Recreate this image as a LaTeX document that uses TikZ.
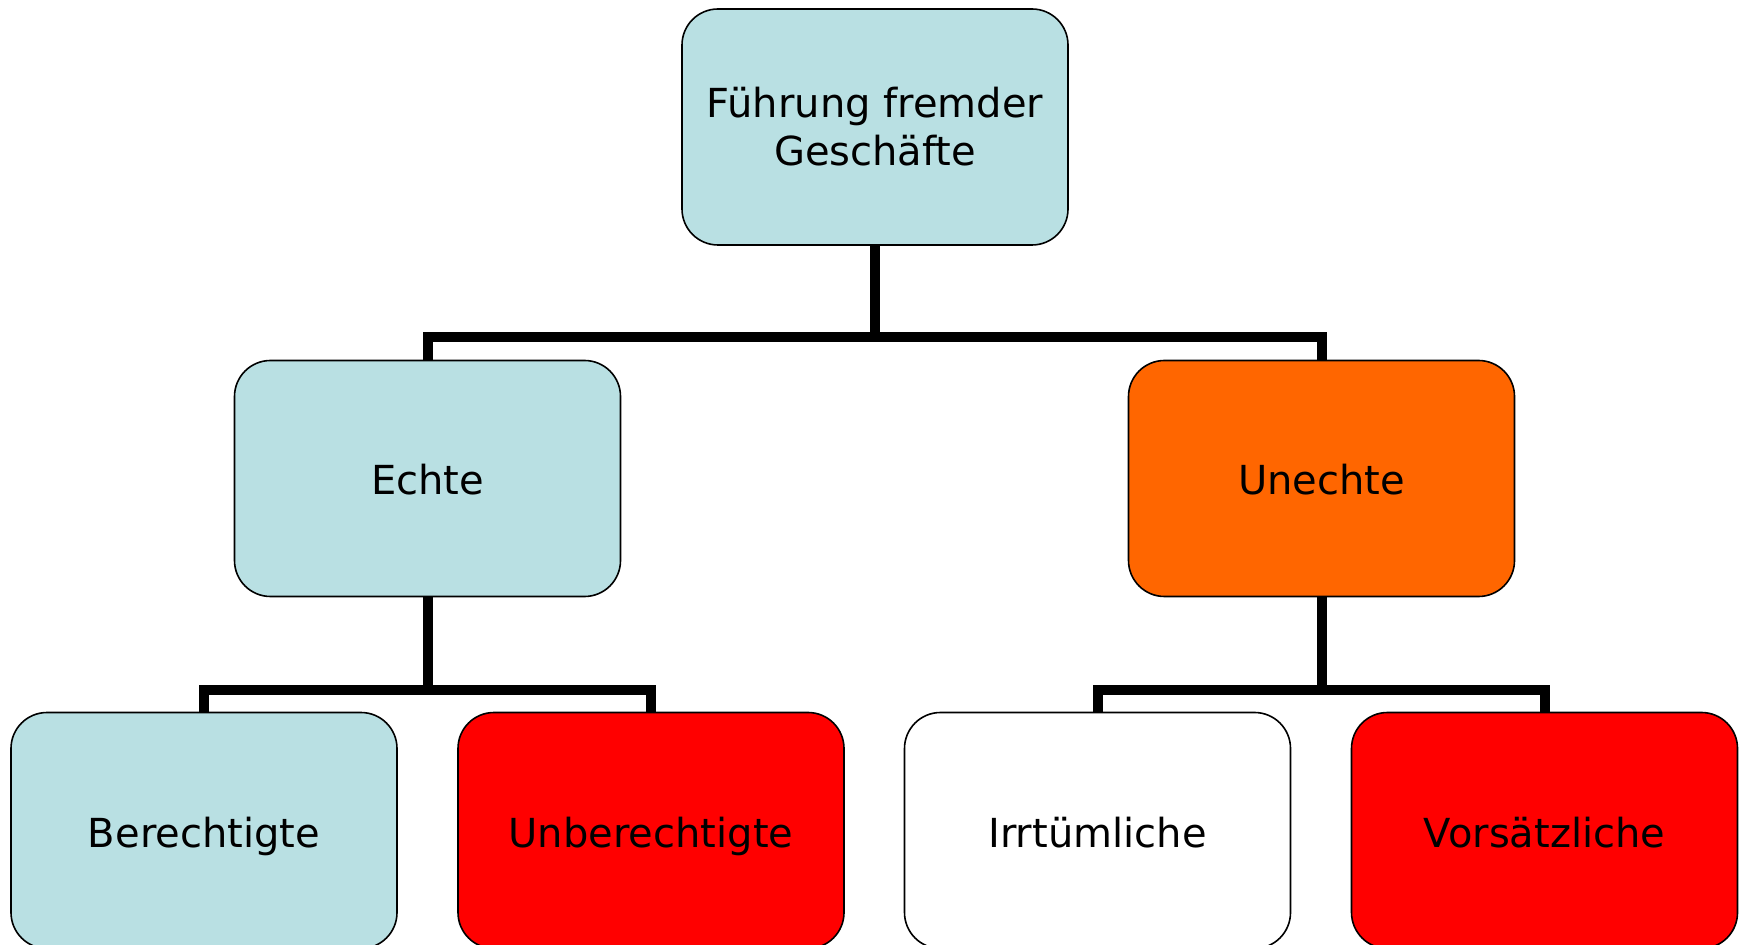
\documentclass[tikz,border=0pt]{standalone}
\usepackage{fontspec}
\setmainfont{DejaVu Sans}
\usepackage{tikz}
\usetikzlibrary{positioning}
\definecolor{lightcyan}{RGB}{185,224,227}
\definecolor{darkorange}{RGB}{255,102,0}
\definecolor{brightred}{RGB}{255,0,0}

\begin{document}
\begin{tikzpicture}[x=0.5pt, y=-0.5pt,
        box/.style={draw=black, line width=0.8pt, rounded corners=18pt,
            minimum width=193pt, minimum height=118pt, inner sep=0pt,
            align=center, font=\fontsize{20}{24}\selectfont},
        oneline/.style={box, text height=20pt, text depth=3.5pt},
        conn/.style={line width=5pt}]
                        \useasboundingbox (0, 0) rectangle (1744, 945);
                        \node[box, fill=lightcyan] (top) at (875, 127) {Führung fremder\\Geschäfte};
                        \node[oneline, fill=lightcyan] (echte) at (427.5, 478.5) {Echte};
                        \node[oneline, fill=darkorange] (unechte) at (1321.5, 478.5) {Unechte};
                        \node[oneline, fill=lightcyan] (ber) at (204, 830.5) {Berechtigte};
                        \node[oneline, fill=brightred] (unber) at (651, 830.5) {Unberechtigte};
                        \node[oneline, fill=white] (irr) at (1097.5, 830.5) {Irrtümliche};
                        \node[oneline, fill=brightred] (vors) at (1544.5, 830.5) {Vorsätzliche};
                        \coordinate (j) at (875, 337);
                        \coordinate (je) at (427.5, 690);
                        \coordinate (ju) at (1321.5, 690);
                        \draw[conn]
                        (top.south) -- (j)
                        (echte.north) |- (j) -| (unechte.north)
                        (echte.south) -- (je)
                        (ber.north) |- (je) -| (unber.north)
                        (unechte.south) -- (ju)
                        (irr.north) |- (ju) -| (vors.north);
                    \end{tikzpicture}
\end{document}
